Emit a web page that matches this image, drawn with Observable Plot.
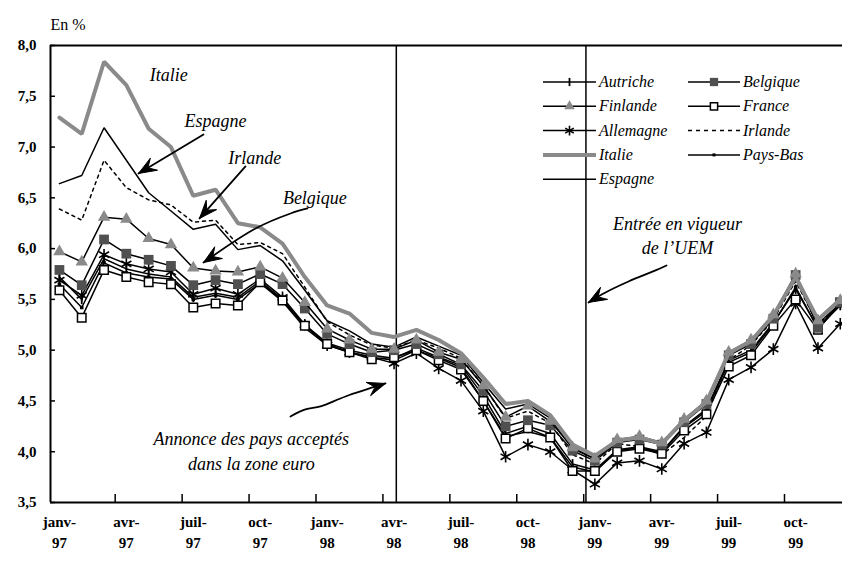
<!DOCTYPE html>
<html><head><meta charset="utf-8">
<script src="https://cdn.jsdelivr.net/npm/d3@7"></script>
<script src="https://cdn.jsdelivr.net/npm/@observablehq/plot@0.6"></script>
<style>
body{margin:0;background:#fff;}
#wrap{position:relative;width:842px;height:561px;overflow:hidden;}
#legend{position:absolute;left:0;top:0;pointer-events:none;}
</style></head><body><div id="wrap"></div>
<script>
// ---- data (monthly, janv-97 .. déc-99), values in % ----
const monthIndex = d3.range(36);
const tickLabels = ["janv-\n97","avr-\n97","juil-\n97","oct-\n97","janv-\n98","avr-\n98","juil-\n98","oct-\n98","janv-\n99","avr-\n99","juil-\n99","oct-\n99"];
const labelMonths = [0,3,6,9,12,15,18,21,24,27,30,33];
const yTicks = [3.5,4.0,4.5,5.0,5.5,6.0,6.5,7.0,7.5,8.0];

const autriche  = [5.72,5.50,5.90,5.80,5.75,5.72,5.52,5.56,5.52,5.68,5.50,5.25,5.07,5.00,4.95,4.92,5.02,4.93,4.85,4.55,4.18,4.25,4.18,3.88,3.82,4.02,4.05,4.00,4.25,4.42,4.90,5.00,5.27,5.60,5.22,5.44];
const belgique  = [5.79,5.64,6.09,5.95,5.89,5.83,5.64,5.69,5.65,5.75,5.65,5.41,5.16,5.06,4.98,5.00,5.06,4.96,4.86,4.60,4.25,4.31,4.26,4.01,3.91,4.09,4.12,4.07,4.29,4.47,4.95,5.06,5.31,5.74,5.22,5.47];
const finlande  = [5.97,5.87,6.31,6.29,6.10,6.04,5.81,5.78,5.77,5.82,5.71,5.47,5.21,5.10,5.01,5.01,5.10,4.98,4.91,4.65,4.34,4.45,4.30,4.04,3.93,4.12,4.15,4.09,4.32,4.50,4.98,5.10,5.35,5.75,5.29,5.49];
const france    = [5.59,5.32,5.79,5.72,5.67,5.65,5.42,5.46,5.44,5.67,5.49,5.24,5.06,4.98,4.91,4.93,5.00,4.90,4.81,4.50,4.13,4.23,4.14,3.81,3.81,4.00,4.03,3.98,4.21,4.37,4.84,4.95,5.24,5.50,5.20,5.47];
const allemagne = [5.69,5.54,5.94,5.85,5.80,5.77,5.55,5.61,5.55,5.70,5.52,5.25,5.05,4.98,4.93,4.87,4.97,4.82,4.70,4.40,3.95,4.07,4.00,3.82,3.68,3.89,3.91,3.83,4.08,4.19,4.71,4.83,5.01,5.46,5.02,5.26];
const irlande   = [6.39,6.28,6.87,6.60,6.48,6.43,6.26,6.28,6.04,6.06,5.95,5.62,5.28,5.15,5.05,5.02,5.10,5.02,4.92,4.65,4.33,4.40,4.28,3.97,3.88,4.08,4.05,3.97,4.14,4.35,4.90,5.05,5.30,5.68,5.25,5.45];
const italie    = [7.29,7.13,7.84,7.61,7.18,7.00,6.52,6.58,6.25,6.21,6.05,5.72,5.44,5.36,5.17,5.13,5.20,5.10,4.97,4.73,4.47,4.50,4.36,4.07,3.96,4.11,4.14,4.08,4.31,4.49,4.97,5.09,5.34,5.72,5.30,5.50];
const paysBas   = [5.65,5.42,5.86,5.76,5.72,5.70,5.50,5.54,5.50,5.66,5.48,5.22,5.05,4.98,4.93,4.90,5.00,4.92,4.83,4.50,4.15,4.20,4.14,3.85,3.80,4.01,4.04,3.99,4.24,4.40,4.88,4.98,5.26,5.62,5.21,5.45];
const espagne   = [6.64,6.72,7.19,6.87,6.55,6.37,6.19,6.24,5.99,6.03,5.88,5.59,5.29,5.19,5.06,5.03,5.13,5.04,4.95,4.68,4.42,4.47,4.33,4.03,3.93,4.10,4.14,4.07,4.30,4.47,4.95,5.08,5.32,5.70,5.26,5.46];

const eventMonths = [15.1, 23.6];

// annotations (month index, value)
const annotNames = ["Italie","Espagne","Irlande","Belgique"];
const annotX = [4.9, 7.0, 8.75, 11.45];
const annotY = [7.71, 7.25, 6.89, 6.50];
const eventTexts = ["Entrée en vigueur\nde l’UEM", "Annonce des pays acceptés\ndans la zone euro"];
const eventTextX = [27.7, 8.6], eventTextY = [6.14, 4.02];
// arrow paths (month index, value), ending at the arrow tip
const arrowPaths = [
  [[6.458,7.124],[3.544,6.740]],
  [[8.340,6.809],[6.279,6.297]],
  [[11.119,6.395],[10.357,6.346],[8.789,6.198],[6.458,5.863]],
  [[27.211,5.834],[26.718,5.785],[25.508,5.676],[24.477,5.568],[23.715,5.470]],
  [[10.357,4.347],[11.030,4.416],[11.702,4.446],[12.823,4.544],[14.616,4.672]]
];

// ---- styles ----
const vbar = {draw(ctx, size){ const h = Math.sqrt(size/Math.PI)*1.2; ctx.moveTo(0,-h); ctx.lineTo(0,h);} };
const series = [
  {name:"Autriche", values:autriche, col:0, sym:vbar, r:4, fill:"none", stroke:"black", sw:1.8},
  {name:"Finlande", values:finlande, col:0, sym:"triangle", r:4.6, fill:"#8a8a8a", stroke:"none", sw:1.5},
  {name:"Allemagne", values:allemagne, col:0, sym:"asterisk", r:5.5, fill:"none", stroke:"black", sw:1.6},
  {name:"Italie", values:italie, col:0, sym:null, lineColor:"#8a8a8a", lw:4},
  {name:"Espagne", values:espagne, col:0, sym:null},
  {name:"Belgique", values:belgique, col:1, sym:"square", r:5.5, fill:"#505050", stroke:"none", sw:1},
  {name:"France", values:france, col:1, sym:"square", r:4.8, fill:"white", stroke:"black", sw:1.5},
  {name:"Irlande", values:irlande, col:1, sym:null, dash:"3,4"},
  {name:"Pays-Bas", values:paysBas, col:1, sym:"square", r:2, fill:"black", stroke:"none", sw:1}
];
const drawOrder = ["Espagne","Irlande","Pays-Bas","Autriche","Allemagne","France","Belgique","Finlande","Italie"];

const W = 842, H = 561;
const mL = 50, mR = 0, mT = 45, mB = 59;
const xDomain = [-0.4, 35.1], yDomain = [3.5, 8];
const kx = (W - mL - mR) / (xDomain[1] - xDomain[0]);
const ky = (H - mT - mB) / (yDomain[1] - yDomain[0]);

const marks = [];
marks.push(Plot.ruleX(eventMonths, {stroke:"black", strokeWidth:1.5}));
for (const n of drawOrder) {
  const s = series.find(d => d.name === n);
  const rows = s.values.map((v,i) => ({i: monthIndex[i], v}));
  marks.push(Plot.line(rows, {x:"i", y:"v", stroke: s.lineColor || "black", strokeWidth: s.lw || 1.5, strokeDasharray: s.dash, strokeLinejoin:"miter"}));
  if (s.sym) marks.push(Plot.dot(rows, {x:"i", y:"v", symbol: s.sym, r: s.r, fill: s.fill, stroke: s.stroke, strokeWidth: s.sw}));
}
// frame lines
marks.push(Plot.ruleY([yDomain[1]], {stroke:"black", strokeWidth:2}));
marks.push(Plot.ruleY([yDomain[0]], {stroke:"black", strokeWidth:2}));
marks.push(Plot.ruleX([xDomain[0]], {stroke:"black", strokeWidth:2}));
// inward tick marks
marks.push(Plot.ruleY(yTicks, {x1: xDomain[0], x2: xDomain[0] + 5/kx, stroke:"black", strokeWidth:1.5}));
marks.push(Plot.ruleX(labelMonths.slice(0,11).map(m => m + 2.5), {y1: yDomain[0], y2: yDomain[0] + 8/ky, stroke:"black", strokeWidth:1.5}));
// axes labels
const fmt = d => d3.format(".1f")(d).replace(".", ",");
marks.push(Plot.axisY({ticks: yTicks, tickSize: 0, tickPadding: 14, tickFormat: fmt, fontWeight:"bold", fontSize: 15, label: null}));
marks.push(Plot.axisX({ticks: labelMonths, tickSize: 0, tickPadding: 9, tickFormat: d => tickLabels[labelMonths.indexOf(d)], fontWeight:"bold", fontSize: 15, lineHeight: 1.42, label: null}));
marks.push(Plot.text(["En %"], {frameAnchor:"top-left", dx: 0, dy: -27, textAnchor:"start", fontSize: 16}));
// annotations
marks.push(Plot.text(annotNames, {x:(d,i)=>annotX[i], y:(d,i)=>annotY[i], fontStyle:"italic", fontSize:18}));
marks.push(Plot.text(eventTexts, {x:(d,i)=>eventTextX[i], y:(d,i)=>eventTextY[i], fontStyle:"italic", fontSize:18, lineHeight:1.35}));
arrowPaths.forEach((pts, k) => {
  const rows = pts.map(([i,v]) => ({i, v}));
  marks.push(Plot.line(rows, {x:"i", y:"v", curve:"catmull-rom", stroke:"black", strokeWidth:1.8}));
  const [pi, pv] = pts[pts.length-2], [ti, tv] = pts[pts.length-1];
  const a = Math.atan2(-(tv - pv)*ky, (ti - pi)*kx);
  const ca = Math.cos(a), sa = Math.sin(a);
  const shape = [[0,0],[-18,-7],[-11,0],[-18,7]];
  const head = {draw(ctx){ shape.forEach(([x,y],j) => { const X = x*ca - y*sa, Y = x*sa + y*ca; j ? ctx.lineTo(X,Y) : ctx.moveTo(X,Y); }); ctx.closePath(); }};
  marks.push(Plot.dot([rows[rows.length-1]], {x:"i", y:"v", symbol: head, r: 5, fill:"black", stroke:"black", strokeWidth:1}));
});

const chart = Plot.plot({
  width: W, height: H,
  marginTop: mT, marginBottom: mB, marginLeft: mL, marginRight: mR,
  x: {type:"linear", domain: xDomain, axis: null},
  y: {domain: yDomain, axis: null},
  style: {fontFamily: "'Liberation Serif', serif", fontSize: "15px", color: "black", background: "white"},
  marks
});
const wrap = document.getElementById("wrap");
wrap.appendChild(chart);

// legend overlay
const lg = d3.select(wrap).append("svg").attr("id","legend").attr("width",W).attr("height",H)
  .style("font-family","'Liberation Serif', serif");
const colX = [{x0:543,x1:596,tx:599},{x0:688,x1:740,tx:743}];
const rowY0 = 82, rowDy = 24.3;
const counters = [0,0];
for (const s of series) {
  const c = colX[s.col]; const y = rowY0 + rowDy * counters[s.col]++;
  const g = lg.append("g");
  g.append("line").attr("x1",c.x0).attr("x2",c.x1).attr("y1",y).attr("y2",y)
    .attr("stroke", s.lineColor || "black").attr("stroke-width", s.lw || 1.5)
    .attr("stroke-dasharray", s.dash ? "4,4" : null);
  if (s.sym) {
    const mx = (c.x0 + c.x1)/2;
    const type = s.sym === "square" ? d3.symbolSquare : s.sym === "triangle" ? d3.symbolTriangle : s.sym === "asterisk" ? d3.symbolAsterisk : s.sym;
    const size = Math.PI * (s.r*0.85) * (s.r*0.85);
    g.append("path").attr("transform",`translate(${mx},${y})`).attr("d", d3.symbol(type, size)())
      .attr("fill", s.fill).attr("stroke", s.stroke).attr("stroke-width", s.sw);
  }
  g.append("text").attr("x", c.tx).attr("y", y).attr("dy","0.32em").attr("font-size",16).attr("font-style","italic").text(s.name);
}
</script></body></html>
